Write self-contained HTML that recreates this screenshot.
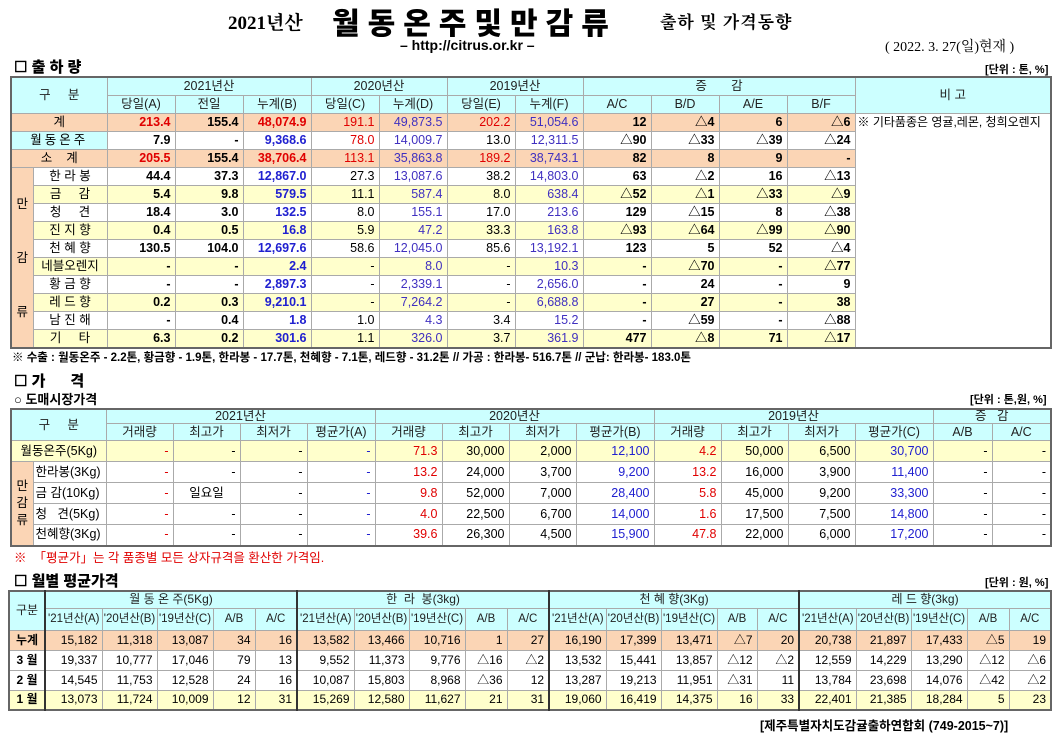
<!DOCTYPE html>
<html><head><meta charset="utf-8">
<style>
body{margin:0;width:1062px;height:736px;background:#fff;position:relative;overflow:hidden;font-family:"Liberation Sans","Noto Sans CJK KR",sans-serif;}
.a{position:absolute;white-space:nowrap;}
table{position:absolute;border-collapse:collapse;table-layout:fixed;font-size:12.5px;border:2px solid #666;}
td{border:1px solid #aaa;padding:0 4px;white-space:nowrap;overflow:hidden;text-align:right;color:#000;line-height:15px;}
.h td,td.h{background:#ccffff;text-align:center;color:#222;}
.p td{background:#fbd5b5;}
.y td{background:#ffffcc;}
.c{text-align:center !important;}
.b{font-weight:bold;}
.r{color:#e00000;}
.u{color:#2020d0;}
.pu{color:#4030c0;}
.pk{background:#fbd5b5 !important;text-align:center !important;}
.w{background:#fff !important;}
.cy{background:#ccffff !important;}
.g{border-left:2px solid #333;}
#t1 tr{height:18px;}
#t1 td{height:17px;}
</style></head><body>
<div class="a" style="left:228px;top:8px;font-family:'Liberation Serif','Noto Serif CJK SC',serif;font-size:19px;font-weight:bold;">2021년산</div>
<div class="a" style="left:332px;top:1px;font-family:'Noto Sans CJK KR',sans-serif;font-size:30px;font-weight:900;letter-spacing:8px;line-height:40px;">월동온주및만감류</div>
<div class="a" style="left:660px;top:8px;font-family:'Noto Serif CJK SC',serif;font-size:17px;font-weight:bold;letter-spacing:1px;">출하 및 가격동향</div>
<div class="a" style="left:400px;top:37px;font-size:14px;font-weight:bold;">– http://citrus.or.kr –</div>
<div class="a" style="left:885px;top:36px;font-size:14px;font-family:'Liberation Serif','Noto Serif CJK SC',serif;">( 2022. 3. 27(일)현재 )</div>
<div class="a" style="left:14px;top:56px;font-size:15px;font-weight:900;">☐ 출 하 량</div>
<div class="a" style="left:985px;top:61px;font-size:11px;font-weight:bold;">[단위 : 톤, %]</div>

<table id="t1" style="left:10px;top:76px;width:1042px;">
<colgroup><col style="width:22px"><col style="width:74px"><col style="width:68px"><col style="width:68px"><col style="width:68px"><col style="width:68px"><col style="width:68px"><col style="width:68px"><col style="width:68px"><col style="width:68px"><col style="width:68px"><col style="width:68px"><col style="width:68px"><col></colgroup>
<tr class="h"><td colspan="2" rowspan="2">구 &nbsp; &nbsp; 분</td><td colspan="3">2021년산</td><td colspan="2">2020년산</td><td colspan="2">2019년산</td><td colspan="4">증 &nbsp; &nbsp; &nbsp; 감</td><td rowspan="2">비 고</td></tr>
<tr class="h"><td>당일(A)</td><td>전일</td><td>누계(B)</td><td>당일(C)</td><td>누계(D)</td><td>당일(E)</td><td>누계(F)</td><td>A/C</td><td>B/D</td><td>A/E</td><td>B/F</td></tr>
<tr class="p"><td colspan="2" class="c">계</td><td class="b r">213.4</td><td class="b">155.4</td><td class="b r">48,074.9</td><td class="r">191.1</td><td class="pu">49,873.5</td><td class="r">202.2</td><td class="pu">51,054.6</td><td class="b">12</td><td class="b">△4</td><td class="b">6</td><td class="b">△6</td><td rowspan="13" class="w" style="text-align:left;vertical-align:top;font-size:12px;padding:1px 2px">※ 기타품종은 영귤,레몬, 청희오렌지</td></tr>
<tr><td colspan="2" class="c cy" style="letter-spacing:3px">월동온주</td><td class="b">7.9</td><td class="b">-</td><td class="b u">9,368.6</td><td class="r">78.0</td><td class="pu">14,009.7</td><td>13.0</td><td class="pu">12,311.5</td><td class="b">△90</td><td class="b">△33</td><td class="b">△39</td><td class="b">△24</td></tr>
<tr class="p"><td colspan="2" class="c">소 &nbsp; &nbsp;계</td><td class="b r">205.5</td><td class="b">155.4</td><td class="b r">38,706.4</td><td class="r">113.1</td><td class="pu">35,863.8</td><td class="r">189.2</td><td class="pu">38,743.1</td><td class="b">82</td><td class="b">8</td><td class="b">9</td><td class="b">-</td></tr>
<tr><td rowspan="10" class="pk" style="line-height:54px;padding:0">만<br>감<br>류</td><td class="c">한 라 봉</td><td class="b">44.4</td><td class="b">37.3</td><td class="b u">12,867.0</td><td>27.3</td><td class="pu">13,087.6</td><td>38.2</td><td class="pu">14,803.0</td><td class="b">63</td><td class="b">△2</td><td class="b">16</td><td class="b">△13</td></tr>
<tr class="y"><td class="c">금 &nbsp; &nbsp; 감</td><td class="b">5.4</td><td class="b">9.8</td><td class="b u">579.5</td><td>11.1</td><td class="pu">587.4</td><td>8.0</td><td class="pu">638.4</td><td class="b">△52</td><td class="b">△1</td><td class="b">△33</td><td class="b">△9</td></tr>
<tr><td class="c">청 &nbsp; &nbsp; 견</td><td class="b">18.4</td><td class="b">3.0</td><td class="b u">132.5</td><td>8.0</td><td class="pu">155.1</td><td>17.0</td><td class="pu">213.6</td><td class="b">129</td><td class="b">△15</td><td class="b">8</td><td class="b">△38</td></tr>
<tr class="y"><td class="c">진 지 향</td><td class="b">0.4</td><td class="b">0.5</td><td class="b u">16.8</td><td>5.9</td><td class="pu">47.2</td><td>33.3</td><td class="pu">163.8</td><td class="b">△93</td><td class="b">△64</td><td class="b">△99</td><td class="b">△90</td></tr>
<tr><td class="c">천 혜 향</td><td class="b">130.5</td><td class="b">104.0</td><td class="b u">12,697.6</td><td>58.6</td><td class="pu">12,045.0</td><td>85.6</td><td class="pu">13,192.1</td><td class="b">123</td><td class="b">5</td><td class="b">52</td><td class="b">△4</td></tr>
<tr class="y"><td class="c" style="padding:0">네블오렌지</td><td class="b">-</td><td class="b">-</td><td class="b u">2.4</td><td>-</td><td class="pu">8.0</td><td>-</td><td class="pu">10.3</td><td class="b">-</td><td class="b">△70</td><td class="b">-</td><td class="b">△77</td></tr>
<tr><td class="c">황 금 향</td><td class="b">-</td><td class="b">-</td><td class="b u">2,897.3</td><td>-</td><td class="pu">2,339.1</td><td>-</td><td class="pu">2,656.0</td><td class="b">-</td><td class="b">24</td><td class="b">-</td><td class="b">9</td></tr>
<tr class="y"><td class="c">레 드 향</td><td class="b">0.2</td><td class="b">0.3</td><td class="b u">9,210.1</td><td>-</td><td class="pu">7,264.2</td><td>-</td><td class="pu">6,688.8</td><td class="b">-</td><td class="b">27</td><td class="b">-</td><td class="b">38</td></tr>
<tr><td class="c">남 진 해</td><td class="b">-</td><td class="b">0.4</td><td class="b u">1.8</td><td>1.0</td><td class="pu">4.3</td><td>3.4</td><td class="pu">15.2</td><td class="b">-</td><td class="b">△59</td><td class="b">-</td><td class="b">△88</td></tr>
<tr class="y"><td class="c">기 &nbsp; &nbsp; 타</td><td class="b">6.3</td><td class="b">0.2</td><td class="b u">301.6</td><td>1.1</td><td class="pu">326.0</td><td>3.7</td><td class="pu">361.9</td><td class="b">477</td><td class="b">△8</td><td class="b">71</td><td class="b">△17</td></tr>
</table>
<div class="a" style="left:12px;top:349px;font-size:11.5px;font-weight:bold;">※ 수출 : 월동온주 - 2.2톤, 황금향 - 1.9톤, 한라봉 - 17.7톤, 천혜향 - 7.1톤, 레드향 - 31.2톤 // 가공 : 한라봉- 516.7톤 // 군납: 한라봉- 183.0톤</div>

<div class="a" style="left:14px;top:370px;font-size:15px;font-weight:900;">☐ 가 &nbsp; &nbsp; &nbsp;격</div>
<div class="a" style="left:14px;top:389px;font-size:13px;font-weight:bold;">○ 도매시장가격</div>
<div class="a" style="left:970px;top:391px;font-size:11px;font-weight:bold;">[단위 : 톤,원, %]</div>
<table style="left:10px;top:408px;width:1042px;font-size:12.5px;">
<colgroup><col style="width:22px"><col style="width:73px"><col style="width:67px"><col style="width:67px"><col style="width:67px"><col style="width:68px"><col style="width:67px"><col style="width:67px"><col style="width:67px"><col style="width:78px"><col style="width:67px"><col style="width:67px"><col style="width:67px"><col style="width:78px"><col style="width:59px"><col></colgroup>
<tr class="h" style="height:14px"><td colspan="2" rowspan="2">구 &nbsp; &nbsp; 분</td><td colspan="4" style="line-height:13px">2021년산</td><td colspan="4" style="line-height:13px">2020년산</td><td colspan="4" style="line-height:13px">2019년산</td><td colspan="2" style="line-height:13px">증 &nbsp; 감</td></tr>
<tr class="h" style="height:17px"><td>거래량</td><td>최고가</td><td>최저가</td><td>평균가(A)</td><td>거래량</td><td>최고가</td><td>최저가</td><td>평균가(B)</td><td>거래량</td><td>최고가</td><td>최저가</td><td>평균가(C)</td><td>A/B</td><td>A/C</td></tr>
<tr class="y" style="height:21px"><td colspan="2" class="c">월동온주(5Kg)</td><td class="r">-</td><td>-</td><td>-</td><td class="u">-</td><td class="r">71.3</td><td>30,000</td><td>2,000</td><td class="u">12,100</td><td class="r">4.2</td><td>50,000</td><td>6,500</td><td class="u">30,700</td><td>-</td><td>-</td></tr>
<tr style="height:21px"><td rowspan="4" class="pk" style="padding:0;line-height:17px">만<br>감<br>류</td><td style="text-align:left;padding:0 2px">한라봉(3Kg)</td><td class="r">-</td><td>-</td><td>-</td><td class="u">-</td><td class="r">13.2</td><td>24,000</td><td>3,700</td><td class="u">9,200</td><td class="r">13.2</td><td>16,000</td><td>3,900</td><td class="u">11,400</td><td>-</td><td>-</td></tr>
<tr style="height:21px"><td style="text-align:left;padding:0 2px">금 감(10Kg)</td><td class="r">-</td><td class="c">일요일</td><td>-</td><td class="u">-</td><td class="r">9.8</td><td>52,000</td><td>7,000</td><td class="u">28,400</td><td class="r">5.8</td><td>45,000</td><td>9,200</td><td class="u">33,300</td><td>-</td><td>-</td></tr>
<tr style="height:21px"><td style="text-align:left;padding:0 2px">청 &nbsp; 견(5Kg)</td><td class="r">-</td><td>-</td><td>-</td><td class="u">-</td><td class="r">4.0</td><td>22,500</td><td>6,700</td><td class="u">14,000</td><td class="r">1.6</td><td>17,500</td><td>7,500</td><td class="u">14,800</td><td>-</td><td>-</td></tr>
<tr style="height:21px"><td style="text-align:left;padding:0 2px">천혜향(3Kg)</td><td class="r">-</td><td>-</td><td>-</td><td class="u">-</td><td class="r">39.6</td><td>26,300</td><td>4,500</td><td class="u">15,900</td><td class="r">47.8</td><td>22,000</td><td>6,000</td><td class="u">17,200</td><td>-</td><td>-</td></tr>
</table>
<div class="a" style="left:14px;top:547px;font-size:12.5px;color:#e00000;">※ &nbsp;「평균가」는 각 품종별 모든 상자규격을 환산한 가격임.</div>

<div class="a" style="left:14px;top:570px;font-size:15px;font-weight:900;">☐ 월별 평균가격</div>
<div class="a" style="left:985px;top:574px;font-size:11px;font-weight:bold;">[단위 : 원, %]</div>
<table style="left:8px;top:590px;width:1044px;font-size:12px;">
<colgroup><col style="width:36px"><col style="width:57px"><col style="width:55px"><col style="width:56px"><col style="width:42px"><col style="width:42px"><col style="width:57px"><col style="width:55px"><col style="width:56px"><col style="width:42px"><col style="width:42px"><col style="width:57px"><col style="width:55px"><col style="width:56px"><col style="width:40px"><col style="width:42px"><col style="width:57px"><col style="width:55px"><col style="width:56px"><col style="width:42px"><col></colgroup>
<tr class="h" style="height:17px"><td rowspan="2">구분</td><td colspan="5" class="g">월 동 온 주(5Kg)</td><td colspan="5" class="g">한 &nbsp;라 &nbsp;봉(3kg)</td><td colspan="5" class="g">천 혜 향(3Kg)</td><td colspan="5" class="g">레 드 향(3kg)</td></tr>
<tr class="h" style="height:22px;font-size:11.5px"><td class="g" style="padding:0">'21년산(A)</td><td style="padding:0">'20년산(B)</td><td style="padding:0">'19년산(C)</td><td>A/B</td><td>A/C</td><td class="g" style="padding:0">'21년산(A)</td><td style="padding:0">'20년산(B)</td><td style="padding:0">'19년산(C)</td><td>A/B</td><td>A/C</td><td class="g" style="padding:0">'21년산(A)</td><td style="padding:0">'20년산(B)</td><td style="padding:0">'19년산(C)</td><td>A/B</td><td>A/C</td><td class="g" style="padding:0">'21년산(A)</td><td style="padding:0">'20년산(B)</td><td style="padding:0">'19년산(C)</td><td>A/B</td><td>A/C</td></tr>
<tr class="p" style="height:20px"><td class="c b">누계</td><td class="g">15,182</td><td>11,318</td><td>13,087</td><td>34</td><td>16</td><td class="g">13,582</td><td>13,466</td><td>10,716</td><td>1</td><td>27</td><td class="g">16,190</td><td>17,399</td><td>13,471</td><td>△7</td><td>20</td><td class="g">20,738</td><td>21,897</td><td>17,433</td><td>△5</td><td>19</td></tr>
<tr style="height:20px"><td class="c b">3 월</td><td class="g">19,337</td><td>10,777</td><td>17,046</td><td>79</td><td>13</td><td class="g">9,552</td><td>11,373</td><td>9,776</td><td>△16</td><td>△2</td><td class="g">13,532</td><td>15,441</td><td>13,857</td><td>△12</td><td>△2</td><td class="g">12,559</td><td>14,229</td><td>13,290</td><td>△12</td><td>△6</td></tr>
<tr style="height:20px"><td class="c b">2 월</td><td class="g">14,545</td><td>11,753</td><td>12,528</td><td>24</td><td>16</td><td class="g">10,087</td><td>15,803</td><td>8,968</td><td>△36</td><td>12</td><td class="g">13,287</td><td>19,213</td><td>11,951</td><td>△31</td><td>11</td><td class="g">13,784</td><td>23,698</td><td>14,076</td><td>△42</td><td>△2</td></tr>
<tr class="y" style="height:20px"><td class="c b">1 월</td><td class="g">13,073</td><td>11,724</td><td>10,009</td><td>12</td><td>31</td><td class="g">15,269</td><td>12,580</td><td>11,627</td><td>21</td><td>31</td><td class="g">19,060</td><td>16,419</td><td>14,375</td><td>16</td><td>33</td><td class="g">22,401</td><td>21,385</td><td>18,284</td><td>5</td><td>23</td></tr>
</table>
<div class="a" style="left:760px;top:715px;font-size:12.5px;font-weight:bold;">[제주특별자치도감귤출하연합회 (749-2015~7)]</div>
</body></html>
